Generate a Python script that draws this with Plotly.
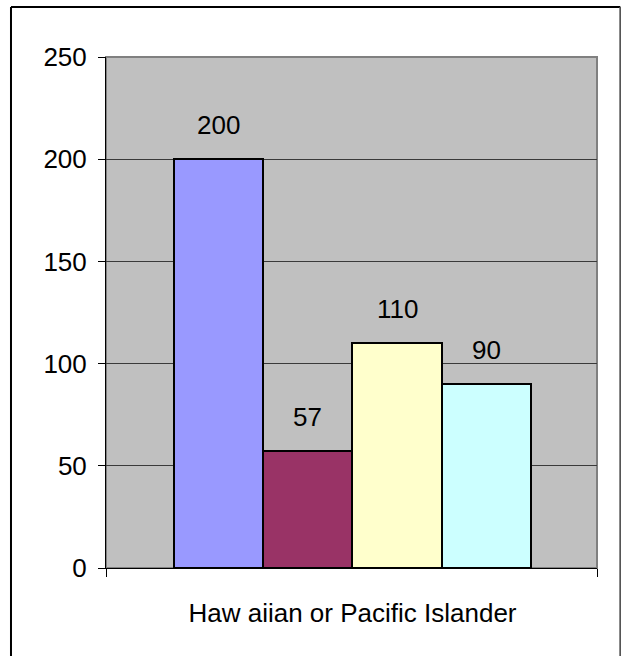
import plotly.graph_objects as go

# Counts for the single category, one bar per series
category = "Haw aiian or Pacific Islander"
series_values = [200, 57, 110, 90]
series_colors = ["#9999FF", "#993366", "#FFFFCC", "#CCFFFF"]
y_tick_values = [0, 50, 100, 150, 200, 250]

FONT = "Liberation Sans, Arial, sans-serif"
x_pos = list(range(len(series_values)))
x_range = [-1.262, len(series_values) - 1 + 1.24]

fig = go.Figure()
fig.add_trace(go.Bar(
    x=x_pos,
    y=series_values,
    width=1,
    marker=dict(color=series_colors, line=dict(color="black", width=2)),
    hoverinfo="skip",
    showlegend=False,
))

# Value labels above each bar
for xi, v in zip(x_pos, series_values):
    fig.add_annotation(
        x=xi, y=v, text=str(v), showarrow=False,
        yanchor="middle", yshift=34,
        font=dict(family=FONT, size=26, color="black"),
    )

# Gray frame around the plotting area
fig.add_shape(type="rect", xref="paper", yref="paper", x0=0, x1=1, y0=0, y1=1,
              line=dict(color="#808080", width=2), layer="below")

# Chart-area border
border = dict(xref="paper", yref="paper", type="line")
fig.add_shape(**border, x0=-0.1935, x1=-0.1935, y0=-0.2, y1=1.0978,
              line=dict(color="black", width=2))
fig.add_shape(**border, x0=-0.1935, x1=1.0475, y0=1.0978, y1=1.0978,
              line=dict(color="black", width=2))
fig.add_shape(**border, x0=1.0475, x1=1.0475, y0=-0.2, y1=1.0978,
              line=dict(color="#555555", width=2))

fig.update_layout(
    width=621, height=656,
    margin=dict(l=106, r=24, t=57, b=88),
    paper_bgcolor="white",
    plot_bgcolor="#C0C0C0",
    font=dict(family=FONT, size=26, color="black"),
    bargap=0,
)
fig.update_xaxes(
    range=x_range,
    tickvals=[(len(series_values) - 1) / 2],
    ticktext=[category],
    ticks="",
    ticklabelstandoff=22,
    showline=True, linecolor="black", linewidth=1,
    showgrid=False, zeroline=False,
    minor=dict(tickmode="array", tickvals=x_range, ticks="outside",
               ticklen=8, tickcolor="black", showgrid=False),
    tickfont=dict(family=FONT, size=26),
)
fig.update_yaxes(
    range=[0, 250],
    tickvals=y_tick_values,
    ticks="outside", ticklen=7, tickcolor="black",
    ticklabelstandoff=6,
    showline=True, linecolor="black", linewidth=1,
    showgrid=True, gridcolor="#3a3a3a", gridwidth=1,
    zeroline=False,
    tickfont=dict(family=FONT, size=26),
)

fig.write_html("out.html")
